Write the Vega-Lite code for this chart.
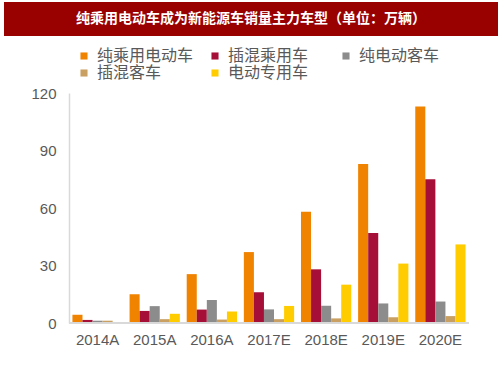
{
  "$schema": "https://vega.github.io/schema/vega-lite/v6.json",
  "background": "white",
  "padding": {"left": 4, "top": 2, "right": 5, "bottom": 4},
  "spacing": 12,
  "config": {"view": {"stroke": null}, "font": "Liberation Sans"},
  "resolve": {"legend": {"color": "independent"}, "scale": {"color": "independent"}},
  "vconcat": [
    {
      "width": 494,
      "height": 34,
      "view": {"fill": "#990000", "stroke": null},
      "data": {"values": [{"t": "纯乘用电动车成为新能源车销量主力车型（单位：万辆）"}]},
      "mark": {"type": "text", "color": "white", "font": "Noto Sans CJK SC", "fontWeight": "bold", "fontSize": 14, "baseline": "middle", "align": "center"},
      "encoding": {"text": {"field": "t"}}
    },
    {
      "width": 465,
      "height": 230,
      "data": {"values": [
        {"year": "2014A", "type": "纯乘用电动车", "v": 4.3},
        {"year": "2014A", "type": "插混乘用车", "v": 1.6},
        {"year": "2014A", "type": "纯电动客车", "v": 1.2},
        {"year": "2014A", "type": "插混客车", "v": 1.2},
        {"year": "2014A", "type": "电动专用车", "v": 0.4},
        {"year": "2015A", "type": "纯乘用电动车", "v": 15},
        {"year": "2015A", "type": "插混乘用车", "v": 6.3},
        {"year": "2015A", "type": "纯电动客车", "v": 8.8},
        {"year": "2015A", "type": "插混客车", "v": 2},
        {"year": "2015A", "type": "电动专用车", "v": 4.8},
        {"year": "2016A", "type": "纯乘用电动车", "v": 25.5},
        {"year": "2016A", "type": "插混乘用车", "v": 7},
        {"year": "2016A", "type": "纯电动客车", "v": 12},
        {"year": "2016A", "type": "插混客车", "v": 1.8},
        {"year": "2016A", "type": "电动专用车", "v": 6},
        {"year": "2017E", "type": "纯乘用电动车", "v": 37},
        {"year": "2017E", "type": "插混乘用车", "v": 16},
        {"year": "2017E", "type": "纯电动客车", "v": 7.1},
        {"year": "2017E", "type": "插混客车", "v": 2},
        {"year": "2017E", "type": "电动专用车", "v": 8.9},
        {"year": "2018E", "type": "纯乘用电动车", "v": 58},
        {"year": "2018E", "type": "插混乘用车", "v": 28},
        {"year": "2018E", "type": "纯电动客车", "v": 9},
        {"year": "2018E", "type": "插混客车", "v": 2.4},
        {"year": "2018E", "type": "电动专用车", "v": 20},
        {"year": "2019E", "type": "纯乘用电动车", "v": 83},
        {"year": "2019E", "type": "插混乘用车", "v": 47},
        {"year": "2019E", "type": "纯电动客车", "v": 10.2},
        {"year": "2019E", "type": "插混客车", "v": 3},
        {"year": "2019E", "type": "电动专用车", "v": 31},
        {"year": "2020E", "type": "纯乘用电动车", "v": 113},
        {"year": "2020E", "type": "插混乘用车", "v": 75},
        {"year": "2020E", "type": "纯电动客车", "v": 11.2},
        {"year": "2020E", "type": "插混客车", "v": 3.6},
        {"year": "2020E", "type": "电动专用车", "v": 41}
      ]},
      "layer": [
        {
          "mark": {"type": "bar"},
          "encoding": {
            "x": {
              "field": "year", "type": "nominal", "sort": null,
              "scale": {"paddingInner": 0.12, "paddingOuter": 0.629, "align": 0.952},
              "axis": {"title": null, "labelAngle": 0, "ticks": false, "domain": false, "labelColor": "#595959", "labelFontSize": 15, "labelPadding": 9}
            },
            "xOffset": {
              "field": "type", "type": "nominal",
              "sort": ["纯乘用电动车", "插混乘用车", "纯电动客车", "插混客车", "电动专用车"],
              "scale": {"paddingInner": 0, "paddingOuter": 0}
            },
            "y": {
              "field": "v", "type": "quantitative",
              "scale": {"domain": [0, 120], "nice": false},
              "axis": {"title": null, "values": [0, 30, 60, 90, 120], "grid": false, "ticks": false, "offset": -65, "domainColor": "#d9d9d9", "domainWidth": 1.5, "labelColor": "#595959", "labelFontSize": 15, "labelPadding": 13}
            },
            "color": {
              "field": "type", "type": "nominal",
              "scale": {
                "domain": ["纯乘用电动车", "插混乘用车", "纯电动客车", "插混客车", "电动专用车"],
                "range": ["#F08300", "#A50F38", "#8C8C8C", "#C9A062", "#FFCC00"]
              },
              "legend": {
                "title": null, "orient": "none", "legendX": 72, "legendY": -45, "direction": "horizontal", "columns": 3, "gridAlign": "all",
                "symbolType": "square", "symbolSize": 50, "symbolStrokeWidth": 0,
                "labelFont": "Noto Sans CJK SC", "labelFontSize": 16, "labelColor": "#595959",
                "columnPadding": 13, "rowPadding": 1, "labelOffset": 5, "padding": 0
              }
            }
          }
        },
        {
          "mark": {"type": "rule", "color": "#d9d9d9", "strokeWidth": 1.5},
          "encoding": {
            "x": {"datum": "2014A", "type": "nominal", "bandPosition": -0.06},
            "x2": {"datum": "2020E", "bandPosition": 1.06},
            "y": {"datum": 0, "type": "quantitative"}
          }
        }
      ]
    }
  ]
}
